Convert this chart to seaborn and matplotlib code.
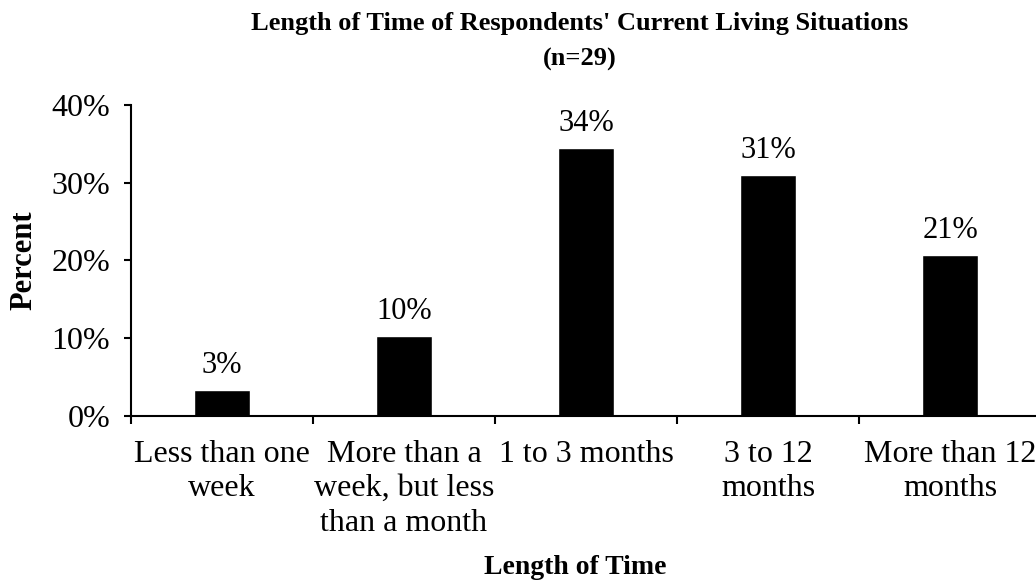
import numpy as np
import pandas as pd
import seaborn as sns
import matplotlib.pyplot as plt
from matplotlib.ticker import PercentFormatter, FixedLocator

categories = ["Less than one\nweek", "More than a\nweek, but less\nthan a month",
              "1 to 3 months", "3 to 12\nmonths", "More than 12\nmonths"]
percents = [3.4, 10.3, 34.5, 31.0, 20.7]
value_labels = ["3%", "10%", "34%", "31%", "21%"]

sns.set_style("ticks")
plt.rcParams['font.family'] = ['Liberation Serif', 'DejaVu Serif']
plt.rcParams['text.color'] = 'black'
plt.rcParams['axes.labelcolor'] = 'black'
plt.rcParams['xtick.color'] = 'black'
plt.rcParams['ytick.color'] = 'black'
plt.rcParams['axes.edgecolor'] = 'black'

df = pd.DataFrame({"category": categories, "percent": percents})

fig = plt.figure(figsize=(10.36, 5.88), dpi=100)
ax = fig.add_axes([0.1264, 0.2925, 0.8785, 0.529])

sns.barplot(data=df, x="category", y="percent", color="black", width=0.31,
            saturation=1, ax=ax)

for patch, lab in zip(ax.patches, value_labels):
    ax.annotate(lab, (patch.get_x() + patch.get_width() / 2, patch.get_height()),
                xytext=(0, 7), textcoords="offset points",
                ha="center", va="bottom", fontsize=22)

ax.set_ylim(0, 40)
ax.set_xlim(-0.5, len(categories) - 0.5)
ax.set_yticks([0, 10, 20, 30, 40])
ax.yaxis.set_major_formatter(PercentFormatter(decimals=0))
ax.tick_params(axis="y", labelsize=23, length=5, width=1.5, direction="out", pad=10)

# category labels sit between the boundary ticks
ax.tick_params(axis="x", which="major", length=0, labelsize=23, pad=17)
ax.xaxis.set_minor_locator(FixedLocator(np.arange(-0.5, len(categories), 1.0)))
ax.tick_params(axis="x", which="minor", length=6, width=1.5, direction="out")
for t in ax.get_xticklabels():
    t.set_linespacing(1.25)

for side in ["top", "right"]:
    ax.spines[side].set_visible(False)
for side in ["left", "bottom"]:
    ax.spines[side].set_linewidth(1.5)

ax.set_xlabel("Length of Time", fontsize=20, fontweight="bold")
ax.xaxis.set_label_coords(0.488, -0.447)
ax.set_ylabel("Percent", fontsize=22, fontweight="bold", labelpad=9)
ax.set_title("Length of Time of Respondents' Current Living Situations\n(n=29)",
             fontsize=19, fontweight="bold", pad=28, x=0.493, linespacing=1.75)

fig.savefig("out.png", dpi=100)
